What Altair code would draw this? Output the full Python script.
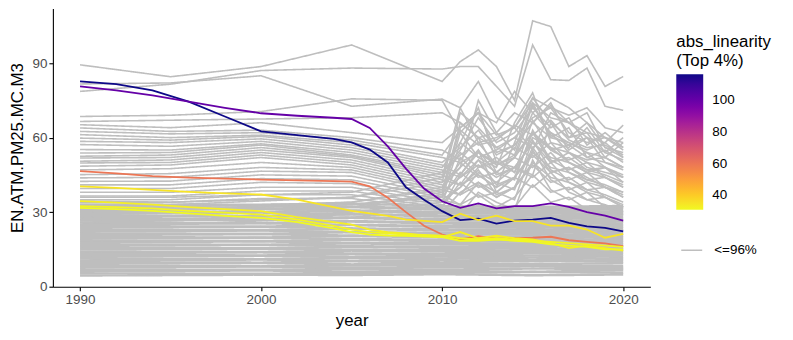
import altair as alt
import pandas as pd

# ---------------- data ----------------
years_upper = [1990, 1995, 2000, 2005, 2010, 2011, 2012, 2013, 2014, 2015, 2016, 2017, 2018, 2019, 2020]
years_band = [1990, 2000, 2005, 2010, 2015, 2020]
years_hl = [1990, 1992, 1994, 1996, 1998, 2000, 2002, 2004, 2005, 2006, 2007, 2008, 2009,
            2010, 2011, 2012, 2013, 2014, 2015, 2016, 2017, 2018, 2019, 2020]

upper_lines = [
    [89.3, 84.5, 88.6, 97.3, 82.6, 90.6, 95.3, 88.6, 75.0, 107.0, 104.7, 88.6, 93.0, 80.6, 84.6],
    [78.6, 81.5, 87.0, 88.0, 87.6, 88.6, 88.6, 80.6, 72.6, 97.3, 83.3, 83.0, 88.0, 72.6, 71.0],
    [81.6, 82.0, 84.9, 72.6, 75.5, 72.0, 82.6, 68.0, 64.0, 76.0, 72.0, 69.0, 72.0, 64.0, 62.0],
    [68.5, 69.0, 70.5, 75.6, 75.0, 62.0, 70.0, 66.0, 78.6, 70.0, 76.0, 72.0, 66.0, 60.0, 58.0],
    [66.5, 67.0, 67.5, 68.0, 70.0, 66.0, 60.0, 62.0, 70.0, 66.0, 73.0, 66.0, 70.0, 56.0, 54.0],
    [65.2, 64.0, 66.0, 62.0, 58.0, 64.0, 70.0, 61.0, 64.0, 74.0, 68.0, 66.0, 62.0, 60.0, 56.0],
    [63.9, 62.5, 63.0, 60.0, 55.0, 51.0, 60.0, 56.0, 53.0, 73.0, 61.0, 57.0, 60.0, 54.0, 51.0],
    [62.5, 61.5, 62.0, 59.0, 53.0, 63.0, 57.0, 59.0, 65.0, 61.0, 67.0, 59.0, 56.0, 57.0, 53.0],
    [61.2, 60.0, 61.0, 58.0, 52.0, 50.0, 54.0, 49.0, 53.0, 62.0, 55.0, 57.0, 52.0, 50.0, 47.0],
    [59.8, 59.0, 60.5, 57.0, 50.0, 56.0, 63.0, 53.0, 57.0, 66.0, 60.0, 58.0, 54.0, 52.0, 48.0],
    [58.5, 58.0, 59.5, 56.0, 49.0, 45.0, 54.0, 50.0, 46.0, 67.0, 55.0, 51.0, 54.0, 48.0, 45.0],
    [57.2, 56.5, 58.5, 55.0, 48.0, 58.0, 52.0, 55.0, 60.0, 56.0, 62.0, 54.0, 51.0, 52.0, 48.0],
    [55.2, 55.0, 57.5, 54.0, 47.0, 44.0, 49.0, 44.0, 48.0, 58.0, 50.0, 52.0, 47.0, 45.0, 42.0],
    [53.8, 54.0, 57.0, 53.0, 46.0, 53.0, 58.0, 49.0, 52.0, 62.0, 56.0, 54.0, 50.0, 48.0, 44.0],
    [52.5, 53.0, 56.0, 52.5, 45.0, 41.0, 51.0, 46.0, 43.0, 63.0, 51.0, 47.0, 50.0, 44.0, 41.0],
    [51.8, 52.0, 55.0, 52.0, 44.0, 54.0, 48.0, 50.0, 56.0, 52.0, 58.0, 50.0, 47.0, 48.0, 44.0],
    [50.5, 51.0, 54.0, 51.0, 43.0, 41.0, 45.0, 40.0, 44.0, 53.0, 46.0, 48.0, 43.0, 41.0, 38.0],
    [49.8, 50.0, 53.0, 50.0, 42.0, 48.0, 55.0, 45.0, 48.0, 58.0, 52.0, 50.0, 46.0, 44.0, 40.0],
    [48.5, 49.0, 52.0, 49.0, 41.0, 37.0, 46.0, 42.0, 39.0, 59.0, 47.0, 43.0, 46.0, 40.0, 37.0],
    [47.0, 47.5, 50.0, 48.0, 40.0, 50.0, 44.0, 46.0, 52.0, 48.0, 54.0, 46.0, 43.0, 44.0, 40.0],
    [45.1, 45.5, 48.0, 47.0, 39.0, 37.0, 41.0, 36.0, 40.0, 49.0, 42.0, 44.0, 39.0, 37.0, 34.0],
    [43.8, 44.0, 46.5, 46.0, 38.0, 44.0, 51.0, 41.0, 44.0, 54.0, 48.0, 46.0, 42.0, 40.0, 36.0],
    [42.4, 42.5, 45.0, 44.5, 37.0, 33.0, 42.0, 38.0, 35.0, 55.0, 43.0, 39.0, 42.0, 36.0, 33.0],
    [41.0, 41.0, 43.5, 43.0, 36.0, 46.0, 40.0, 42.0, 48.0, 44.0, 50.0, 42.0, 39.0, 40.0, 36.0],
    [39.5, 39.5, 42.0, 41.5, 35.0, 33.0, 37.0, 32.0, 36.0, 45.0, 38.0, 40.0, 35.0, 33.0, 30.0],
    [38.0, 38.0, 40.0, 40.0, 34.0, 40.0, 47.0, 37.0, 40.0, 50.0, 44.0, 42.0, 38.0, 36.0, 32.0],
    [36.5, 36.5, 38.5, 38.5, 33.0, 29.0, 38.0, 34.0, 31.0, 51.0, 39.0, 35.0, 38.0, 32.0, 29.0],
    [35.0, 35.0, 37.0, 37.0, 32.0, 42.0, 36.0, 38.0, 44.0, 40.0, 46.0, 38.0, 35.0, 36.0, 32.0],
    [34.0, 34.0, 35.5, 35.5, 31.0, 29.0, 33.0, 28.0, 32.0, 41.0, 34.0, 36.0, 31.0, 29.0, 26.0],
]

spike_lines = [
    [30.0, 30.5, 32.0, 33.0, 36.0, 58.0, 72.0, 50.0, 48.0, 45.0, 66.0, 55.0, 60.0, 50.0, 48.0],
    [28.0, 28.5, 30.0, 32.0, 38.0, 66.0, 60.0, 46.0, 52.0, 70.0, 62.0, 58.0, 55.0, 58.0, 52.0],
    [32.0, 32.0, 33.0, 34.0, 40.0, 48.0, 75.0, 62.0, 55.0, 74.0, 60.0, 64.0, 52.0, 55.0, 50.0],
    [27.0, 27.0, 28.5, 30.0, 34.0, 52.0, 45.0, 40.0, 58.0, 76.0, 66.0, 60.0, 62.0, 52.0, 58.0],
    [33.0, 33.0, 34.5, 36.0, 42.0, 70.0, 64.0, 56.0, 60.0, 68.0, 72.0, 62.0, 58.0, 60.0, 55.0],
    [26.0, 26.5, 28.0, 29.0, 32.0, 45.0, 55.0, 38.0, 44.0, 62.0, 50.0, 54.0, 48.0, 46.0, 44.0],
    [31.0, 31.0, 32.0, 33.0, 37.0, 62.0, 52.0, 48.0, 66.0, 78.0, 58.0, 56.0, 64.0, 54.0, 60.0],
    [29.0, 29.5, 31.0, 32.0, 35.0, 40.0, 48.0, 52.0, 46.0, 60.0, 56.0, 50.0, 46.0, 48.0, 42.0],
    [34.5, 34.0, 35.0, 36.0, 44.0, 72.0, 58.0, 60.0, 64.0, 55.0, 70.0, 66.0, 60.0, 58.0, 65.0],
    [25.0, 25.0, 26.5, 28.0, 30.0, 38.0, 42.0, 36.0, 40.0, 56.0, 46.0, 48.0, 44.0, 40.0, 38.0],
    [36.0, 36.0, 37.0, 38.0, 46.0, 55.0, 68.0, 58.0, 62.0, 72.0, 64.0, 68.0, 57.0, 62.0, 56.0],
    [30.5, 31.0, 32.5, 34.0, 39.0, 64.0, 70.0, 54.0, 57.0, 66.0, 74.0, 60.0, 66.0, 56.0, 52.0],
]

band_lines = [
    [4.5, 4.8, 4.7, 5.0, 4.6, 4.9],
    [5.4, 5.2, 5.6, 5.5, 5.9, 5.6],
    [6.2, 6.5, 6.1, 6.4, 6.0, 6.6],
    [7.0, 6.8, 7.2, 6.9, 7.3, 7.1],
    [7.8, 8.1, 7.7, 7.9, 8.2, 7.6],
    [8.4, 8.2, 8.6, 8.8, 8.5, 8.3],
    [9.2, 9.5, 9.0, 9.3, 9.1, 9.4],
    [9.9, 9.7, 10.2, 9.8, 10.4, 10.0],
    [10.6, 10.9, 10.5, 10.7, 10.2, 10.8],
    [11.3, 11.1, 11.6, 11.4, 11.0, 11.5],
    [12.0, 12.4, 11.9, 12.1, 11.8, 12.2],
    [12.8, 12.6, 13.0, 12.7, 12.5, 12.9],
    [13.5, 13.8, 13.4, 13.2, 13.3, 13.6],
    [14.2, 14.0, 14.5, 14.1, 13.9, 14.3],
    [15.0, 15.3, 14.9, 14.7, 14.6, 15.0],
    [15.7, 15.5, 16.0, 15.6, 15.2, 15.7],
    [16.4, 16.8, 16.3, 16.1, 16.0, 16.4],
    [17.1, 16.9, 17.4, 17.0, 16.7, 17.1],
    [17.9, 18.2, 17.7, 17.5, 17.4, 17.8],
    [18.6, 18.4, 18.9, 18.3, 18.1, 18.5],
    [19.3, 19.7, 19.2, 18.9, 18.8, 19.2],
    [20.0, 19.8, 20.4, 19.8, 19.5, 19.9],
    [20.8, 21.1, 20.6, 20.3, 20.2, 20.6],
    [21.5, 21.3, 21.9, 21.2, 20.9, 21.3],
    [22.2, 22.6, 22.0, 21.7, 21.6, 22.0],
    [22.9, 22.7, 23.3, 22.6, 22.3, 22.7],
    [23.7, 24.0, 23.5, 23.1, 23.0, 23.4],
    [24.4, 24.2, 24.8, 24.0, 23.7, 24.1],
    [25.1, 25.5, 24.9, 24.5, 24.4, 24.8],
    [25.8, 25.6, 26.2, 25.4, 25.1, 25.5],
    [26.6, 26.9, 26.4, 25.9, 25.8, 26.2],
    [27.3, 27.1, 27.7, 26.8, 26.5, 26.9],
    [28.0, 28.4, 27.8, 27.3, 27.2, 27.6],
    [28.7, 28.5, 29.1, 28.2, 27.9, 28.3],
    [29.5, 29.8, 29.3, 28.7, 28.6, 29.0],
    [30.2, 30.0, 30.6, 29.6, 29.3, 29.7],
    [30.9, 31.3, 30.7, 30.1, 30.0, 30.4],
    [31.6, 31.4, 32.0, 31.0, 30.7, 31.1],
    [32.4, 32.7, 32.2, 31.5, 31.4, 31.8],
    [33.1, 33.0, 33.5, 32.4, 32.1, 32.5],
]

hl_names = ["dark_blue", "purple", "orange", "yellow_1", "yellow_2", "yellow_3", "yellow_4"]
hl_linearity = [116, 100, 60, 35, 33, 32, 31]
hl_dark_blue = [82.6, 81.5, 79.0, 74.5, 68.5, 62.5, 61.0, 59.5, 58.1, 55.2, 50.0, 40.0, 35.0,
                30.4, 26.8, 27.4, 25.4, 26.6, 27.0, 27.7, 25.7, 24.3, 23.7, 22.3]
hl_purple = [80.6, 79.0, 77.0, 74.5, 72.0, 69.8, 68.8, 68.0, 67.5, 63.9, 56.5, 47.5, 39.5,
             34.4, 31.7, 33.5, 31.5, 32.4, 32.4, 33.5, 32.1, 30.0, 28.6, 26.6]
hl_orange = [46.5, 45.6, 44.5, 43.9, 43.5, 43.1, 42.8, 42.5, 42.3, 40.4, 35.8, 30.0, 24.5,
             21.0, 19.0, 20.3, 19.3, 19.5, 19.7, 20.1, 18.7, 18.0, 17.4, 16.3]
hl_yellow_1 = [40.4, 39.8, 39.0, 38.2, 37.6, 37.1, 35.0, 32.0, 30.5, 29.5, 28.5, 27.0, 26.5,
               26.0, 29.4, 26.8, 28.6, 26.4, 26.4, 24.6, 24.6, 23.0, 19.7, 21.3]
hl_yellow_2 = [34.4, 33.8, 33.0, 32.0, 31.2, 30.4, 28.0, 26.0, 25.0, 23.0, 22.0, 21.5, 20.5,
               20.0, 22.0, 19.5, 20.5, 19.5, 19.0, 17.5, 15.5, 16.5, 15.5, 14.5]
hl_yellow_3 = [32.4, 32.0, 31.5, 30.5, 29.8, 29.0, 27.0, 24.5, 23.0, 22.0, 21.5, 21.0, 20.8,
               20.5, 19.5, 19.0, 19.5, 19.0, 18.5, 18.0, 17.5, 17.0, 16.5, 16.0]
hl_yellow_4 = [31.7, 31.2, 30.5, 29.5, 28.5, 27.7, 26.0, 23.5, 22.0, 21.0, 20.6, 20.5, 20.2,
               20.0, 18.5, 18.5, 19.0, 18.5, 18.0, 17.0, 16.5, 16.0, 15.0, 15.0]
hl_series = [hl_dark_blue, hl_purple, hl_orange, hl_yellow_1, hl_yellow_2, hl_yellow_3, hl_yellow_4]

x_ticks = [1990, 2000, 2010, 2020]
y_ticks = [0, 30, 60, 90]
legend_ticks = [40, 60, 80, 100]

# ---------------- tables ----------------
def grey_table(prefix, years, group):
    rows = []
    for i, vals in enumerate(group):
        for yr, v in zip(years, vals):
            rows.append({"country": f"{prefix}{i}", "year": yr, "value": v, "grp": "<=96%"})
    return pd.DataFrame(rows)

df_upper = pd.concat([grey_table("u", years_upper, upper_lines),
                      grey_table("s", years_upper, spike_lines)], ignore_index=True)
df_band = grey_table("b", years_band, band_lines)

hl_rows = []
for name, lin, vals in zip(hl_names, hl_linearity, hl_series):
    for yr, v in zip(years_hl, vals):
        hl_rows.append({"country": name, "year": yr, "value": v, "abs_linearity": lin})
df_hl = pd.DataFrame(hl_rows)

GREY = "#bebebe"

x_enc = alt.X("year:Q",
              scale=alt.Scale(domain=[1988.5, 2021.5], nice=False, zero=False),
              axis=alt.Axis(values=x_ticks, format="d", title="year", titlePadding=6))
y_enc = alt.Y("value:Q",
              scale=alt.Scale(domain=[0, 112], nice=False),
              axis=alt.Axis(values=y_ticks, title="EN.ATM.PM25.MC.M3", titlePadding=5))


def dash_enc():
    return alt.StrokeDash(
        "grp:N",
        scale=alt.Scale(domain=["<=96%"], range=[[1, 0]]),
        legend=alt.Legend(title=None, orient="none", legendX=629, legendY=231,
                          symbolType="stroke", symbolStrokeColor=GREY, symbolStrokeWidth=1.6,
                          symbolSize=441, labelFontSize=13.5, labelColor="black",
                          labelOffset=11, padding=0),
    )


band = alt.Chart(df_band).mark_line(strokeWidth=2.4, color=GREY).encode(
    x=x_enc, y=y_enc, detail="country:N", strokeDash=dash_enc(),
)

upper = alt.Chart(df_upper).mark_line(strokeWidth=1.6, color=GREY).encode(
    x="year:Q", y="value:Q", detail="country:N", strokeDash=dash_enc(),
)

hl = alt.Chart(df_hl).mark_line(strokeWidth=1.8).encode(
    x="year:Q",
    y="value:Q",
    detail="country:N",
    color=alt.Color(
        "abs_linearity:Q",
        scale=alt.Scale(scheme="plasma", reverse=True, domain=[31, 116], nice=False),
        legend=alt.Legend(title=["abs_linearity", "\u00a0(Top 4%)"], orient="none",
                          legendX=625, legendY=26, values=legend_ticks,
                          gradientLength=136, gradientThickness=27,
                          gradientStrokeWidth=0,
                          titleFontSize=16.9, titleFontWeight="normal", titleColor="black",
                          titleLineHeight=19, titlePadding=4,
                          labelFontSize=13.5, labelColor="black", labelOffset=9,
                          padding=0),
    ),
)

chart = alt.layer(band, upper, hl).properties(
    width=599,
    height=279,
    padding={"left": 45, "top": 0, "right": 135, "bottom": 45},
    autosize=alt.AutoSizeParams(type="none"),
).configure(
    font="Liberation Sans",
).configure_view(
    strokeWidth=0,
).configure_axis(
    grid=False,
    domainColor="black",
    domainWidth=1.1,
    tickColor="black",
    tickWidth=1.1,
    tickSize=4,
    labelColor="#4d4d4d",
    labelFontSize=13.5,
    labelPadding=2,
    titleFontSize=16.9,
    titleFontWeight="normal",
    titleColor="black",
)

chart.save("out.html", embed_options={"renderer": "svg", "actions": False})
